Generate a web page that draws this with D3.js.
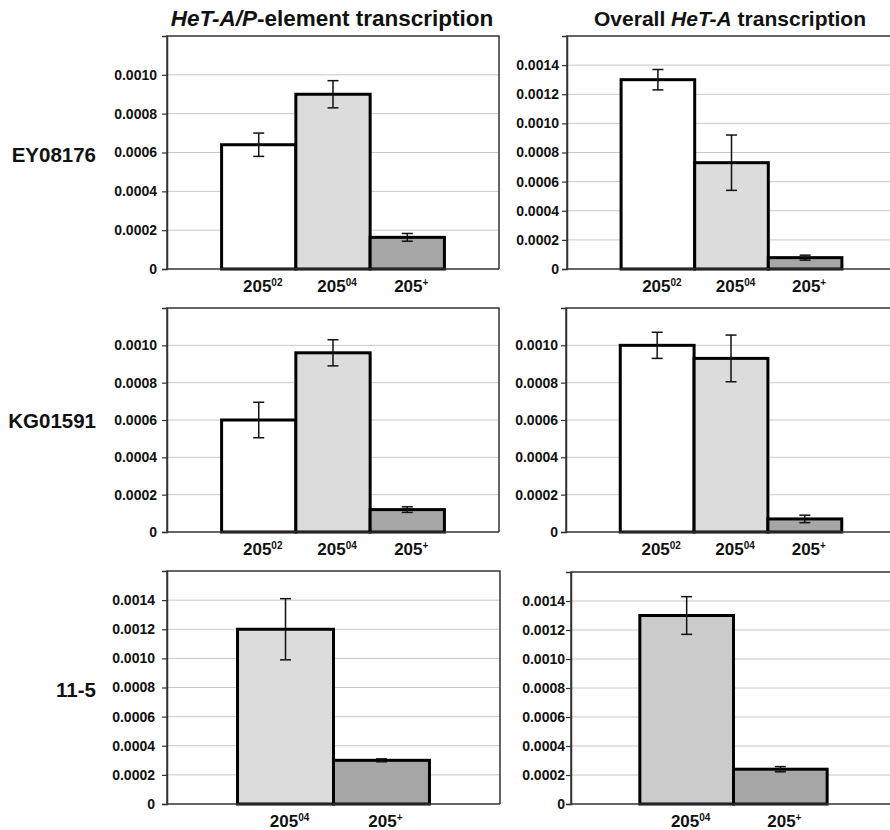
<!DOCTYPE html>
<html>
<head>
<meta charset="utf-8">
<script src="https://cdn.jsdelivr.net/npm/d3@7"></script>
<style>
  html, body { margin: 0; padding: 0; background: #fff; }
  svg { display: block; font-family: "Liberation Sans", Arial, Helvetica, sans-serif; }
</style>
</head>
<body>
<svg id="chart" width="890" height="830"></svg>
<script>
// ---------- DATA ----------
const columnTitles = [
  [{t: "HeT-A/P", i: true}, {t: "-element transcription", i: false}],
  [{t: "Overall ", i: false}, {t: "HeT-A", i: true}, {t: " transcription", i: false}]
];
const rowLabels = ["EY08176", "KG01591", "11-5"];

const catBase3 = ["205", "205", "205"];
const catSup3  = ["02", "04", "+"];
const catBase2 = ["205", "205"];
const catSup2  = ["04", "+"];

// EY08176
const eyAPValues  = [0.00064, 0.00090, 0.000163];
const eyAPErrors  = [0.00006, 0.00007, 0.00002];
const eyAllValues = [0.00130, 0.00073, 0.000078];
const eyAllErrors = [0.00007, 0.00019, 0.000017];
// KG01591
const kgAPValues  = [0.00060, 0.00096, 0.00012];
const kgAPErrors  = [0.000095, 0.00007, 0.000015];
const kgAllValues = [0.00100, 0.00093, 0.00007];
const kgAllErrors = [0.00007, 0.000125, 0.00002];
// 11-5
const e115APValues  = [0.00120, 0.00030];
const e115APErrors  = [0.00021, 0.00001];
const e115AllValues = [0.00130, 0.00024];
const e115AllErrors = [0.00013, 0.000018];

const ticks12 = [0, 0.0002, 0.0004, 0.0006, 0.0008, 0.0010];
const ticks16 = [0, 0.0002, 0.0004, 0.0006, 0.0008, 0.0010, 0.0012, 0.0014];

const fills3 = ["#ffffff", "#dcdcdc", "#a6a6a6"];
const fills2a = ["#dcdcdc", "#a6a6a6"];
const fills2b = ["#cbcbcb", "#a6a6a6"];

// ---------- PANELS ----------
const panels = [
  {x0: 167, x1: 499, y0: 36,  y1: 269, max: 0.0012, ticks: ticks12, base: catBase3, sup: catSup3, v: eyAPValues,   e: eyAPErrors,   fill: fills3,  pad: 8},
  {x0: 567, x1: 896, y0: 36,  y1: 269, max: 0.0016, ticks: ticks16, base: catBase3, sup: catSup3, v: eyAllValues,  e: eyAllErrors,  fill: fills3,  pad: 6},
  {x0: 167, x1: 499, y0: 308, y1: 532, max: 0.0012, ticks: ticks12, base: catBase3, sup: catSup3, v: kgAPValues,   e: kgAPErrors,   fill: fills3,  pad: 8},
  {x0: 566, x1: 896, y0: 308, y1: 532, max: 0.0012, ticks: ticks12, base: catBase3, sup: catSup3, v: kgAllValues,  e: kgAllErrors,  fill: fills3,  pad: 6},
  {x0: 167, x1: 500, y0: 571, y1: 804, max: 0.0016, ticks: ticks16, base: catBase2, sup: catSup2, v: e115APValues, e: e115APErrors, fill: fills2a, pad: 10},
  {x0: 571, x1: 896, y0: 572, y1: 804, max: 0.0016, ticks: ticks16, base: catBase2, sup: catSup2, v: e115AllValues,e: e115AllErrors,fill: fills2b, pad: 4}
];

const svg = d3.select("#chart");

// column titles
const titleX = [332, 730];
const titleSize = [22.5, 21];
columnTitles.forEach((parts, i) => {
  const t = svg.append("text")
    .attr("x", titleX[i]).attr("y", 26)
    .attr("text-anchor", "middle")
    .attr("font-size", titleSize[i]).attr("font-weight", "bold").attr("fill", "#111");
  parts.forEach(p => t.append("tspan").attr("font-style", p.i ? "italic" : "normal").text(p.t));
});

// row labels
const rowY = [162, 428, 697];
rowLabels.forEach((r, i) => {
  svg.append("text").attr("x", 96).attr("y", rowY[i])
    .attr("text-anchor", "end").attr("font-size", 20.5).attr("font-weight", "bold")
    .attr("fill", "#111").text(r);
});

panels.forEach(p => {
  const g = svg.append("g");
  const idx = d3.range(p.v.length);
  const x = d3.scaleBand().domain(idx).range([p.x0, p.x1]).paddingInner(0).paddingOuter(0.735);
  const y = d3.scaleLinear().domain([0, p.max]).range([p.y1, p.y0]);

  // gridlines
  g.selectAll("line.grid").data(p.ticks.filter(d => d > 0)).join("line")
    .attr("x1", p.x0).attr("x2", p.x1)
    .attr("y1", d => y(d)).attr("y2", d => y(d))
    .attr("stroke", "#c8c8c8").attr("stroke-width", 1);

  // frame (top, right, left)
  g.append("path")
    .attr("d", `M${p.x0},${p.y1}V${p.y0}H${p.x1}V${p.y1}`)
    .attr("fill", "none").attr("stroke", "#333").attr("stroke-width", 1.5);

  // y axis
  const yAxis = d3.axisLeft(y).tickValues(p.ticks).tickSize(5).tickPadding(p.pad - 5 + 2)
    .tickFormat(d => d === 0 ? "0" : d.toFixed(4));
  const ag = g.append("g").attr("transform", `translate(${p.x0},0)`).call(yAxis);
  ag.select(".domain").attr("stroke", "#333").attr("stroke-width", 1.5);
  ag.selectAll(".tick line").attr("stroke", "#333").attr("stroke-width", 1.2);
  ag.selectAll(".tick text").attr("font-size", 14).attr("font-weight", "bold")
    .attr("fill", "#111").attr("font-family", "Liberation Sans, Arial, sans-serif");

  // bars
  g.selectAll("rect.bar").data(idx).join("rect")
    .attr("x", i => x(i)).attr("width", x.bandwidth())
    .attr("y", i => y(p.v[i])).attr("height", i => y(0) - y(p.v[i]))
    .attr("fill", i => p.fill[i]).attr("stroke", "#000").attr("stroke-width", 3);

  // baseline
  g.append("line").attr("x1", p.x0).attr("x2", p.x1).attr("y1", p.y1).attr("y2", p.y1)
    .attr("stroke", "#333").attr("stroke-width", 1.5);

  // error bars
  const cap = 5.5;
  idx.forEach(i => {
    const cx = x(i) + x.bandwidth() / 2;
    const hi = y(p.v[i] + p.e[i]), lo = y(p.v[i] - p.e[i]);
    g.append("line").attr("x1", cx).attr("x2", cx).attr("y1", hi).attr("y2", lo)
      .attr("stroke", "#111").attr("stroke-width", 1.5);
    [hi, lo].forEach(yy => g.append("line").attr("x1", cx - cap).attr("x2", cx + cap)
      .attr("y1", yy).attr("y2", yy).attr("stroke", "#111").attr("stroke-width", 1.5));
  });

  // category labels
  idx.forEach(i => {
    const t = g.append("text")
      .attr("x", x(i) + x.bandwidth() / 2 + 4).attr("y", p.y1 + 23)
      .attr("text-anchor", "middle").attr("font-weight", "bold").attr("fill", "#111");
    t.append("tspan").attr("font-size", 17).text(p.base[i]);
    t.append("tspan").attr("font-size", 10).attr("dy", -6).text(p.sup[i]);
  });
});
</script>
</body>
</html>
